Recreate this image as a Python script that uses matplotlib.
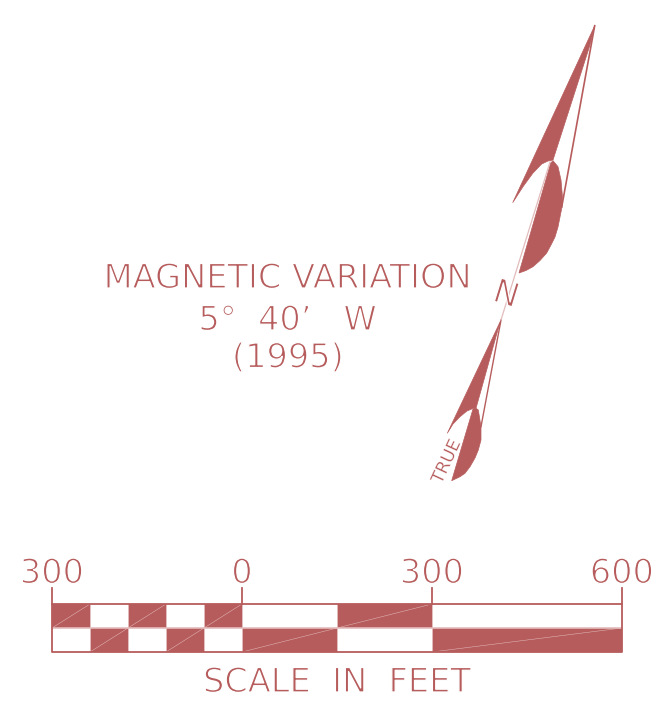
import matplotlib
matplotlib.use('Agg')
import matplotlib.pyplot as plt
import matplotlib.patheffects as pe

RED = '#b75c5c'
PALE = '#e3bcbc'

# scale bar, in feet
seg_left = [-300, -240, -180, -120, -60, 0, 150, 300]
seg_right = [-240, -180, -120, -60, 0, 150, 300, 600]
top_filled = [1, 0, 1, 0, 1, 0, 1, 0]
tick_feet = [-300, 0, 300, 600]
tick_labels = ['300', '0', '300', '600']

# north arrow outlines, in picture pixels
upper_vane_x = [594.7, 512.7, 523, 533, 541.7, 548, 553, 590]
upper_vane_y = [25.7, 202.7, 186.7, 173, 164, 161, 160, 45]
upper_lobe_x = [553, 558, 561, 562.5, 562, 560, 558, 555, 551, 546.7, 540, 533, 526, 519, 550.7]
upper_lobe_y = [160.7, 166.7, 180, 197, 207, 217, 227, 237, 245, 253, 260.5, 266.7, 270.5, 273, 163]
upper_stem_x = [594.7, 561.7]
upper_stem_y = [25.7, 207]
lower_vane_x = [501, 447.3, 453, 460, 467, 473.3, 476, 497]
lower_vane_y = [320, 433.3, 424, 416.7, 411, 408.3, 408.3, 333]
lower_lobe_x = [476, 478.3, 481, 481, 478.3, 475, 470, 465, 460, 451.7, 473]
lower_lobe_y = [408.3, 410, 426.7, 440, 450, 458, 466.7, 473.3, 476.7, 480.7, 409]
lower_stem_x = [501, 481]
lower_stem_y = [320, 426.7]
shaft_x = [550, 501]
shaft_y = [162, 320]

fig = plt.figure(figsize=(6.58, 7.13), dpi=100)

# picture layer for the arrow and the notes
ax = fig.add_axes([0, 0, 1, 1])
ax.set_xlim(0, 658)
ax.set_ylim(713, 0)
ax.axis('off')

ax.fill(upper_vane_x, upper_vane_y, color=RED, lw=0.5)
ax.fill(upper_lobe_x, upper_lobe_y, color=RED, lw=0.5)
ax.plot(upper_stem_x, upper_stem_y, color=RED, lw=1.2)
ax.fill(lower_vane_x, lower_vane_y, color=RED, lw=0.5)
ax.fill(lower_lobe_x, lower_lobe_y, color=RED, lw=0.5)
ax.plot(lower_stem_x, lower_stem_y, color=RED, lw=1.0)
ax.plot(shaft_x, shaft_y, color=PALE, lw=0.9)

# white outline thins the DejaVu strokes down to the drafting look
thin = [pe.Stroke(linewidth=0.9, foreground='white')]
thin_small = [pe.Stroke(linewidth=0.2, foreground='white')]
txt = dict(color=RED, ha='center', va='center', path_effects=thin)
ax.text(287.5, 278.5, 'MAGNETIC VARIATION', fontsize=24.2, **txt)
ax.text(288, 320.5, '5°  40’   W', fontsize=24.2, **txt)
ax.text(288, 358, '(1995)', fontsize=24.2, **txt)
ax.text(506, 295, 'N', fontsize=24, rotation=-17, **txt)
ax.text(446.5, 461.5, 'TRUE', fontsize=12.5, rotation=65, color=RED, ha='center', va='center',
        path_effects=thin_small)

# scale bar axes, x in feet, one unit of y per row
sc = fig.add_axes([52 / 658, 1 - 652 / 713, 570 / 658, 48 / 713])
sc.set_xlim(-300, 600)
sc.set_ylim(0, 2)
sc.axis('off')

for left, right, filled in zip(seg_left, seg_right, top_filled):
    row = 1 if filled else 0
    sc.bar(left, 1, width=right - left, bottom=row, align='edge', color=RED, lw=0)
    sc.plot([left, right], [row, row + 1], color=PALE, lw=0.35)
    sc.plot([right, right], [0, 2], color=PALE, lw=0.7)

sc.plot([-300, 600], [1, 1], color=PALE, lw=1.2)
sc.plot([-300, 600, 600, -300, -300], [2, 2, 0, 0, 2], color=RED, lw=1.3, clip_on=False)
for feet, label in zip(tick_feet, tick_labels):
    sc.plot([feet, feet], [2, 2.67], color=RED, lw=1.3, clip_on=False)
    sc.text(feet, 3.27, label, fontsize=24.2, **txt)
sc.text(150, -1.27, 'SCALE  IN  FEET', fontsize=24.2, **txt)

fig.savefig('out.png', dpi=100)
